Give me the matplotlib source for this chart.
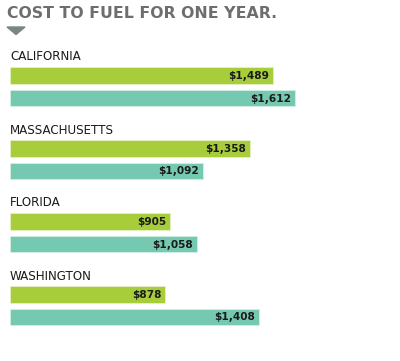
import matplotlib as mpl
mpl.use('Agg')
import matplotlib.pyplot as plt
from matplotlib.patches import Polygon

# data
states = ['CALIFORNIA', 'MASSACHUSETTS', 'FLORIDA', 'WASHINGTON']
cost_a = [1489, 1358, 905, 878]     # green bars
cost_b = [1612, 1092, 1058, 1408]   # teal bars

GREEN = '#a8cd3a'
TEAL = '#76c9b1'
TITLE_GRAY = '#6d6e70'

W, H = 400, 361
fig = plt.figure(figsize=(W / 100, H / 100), dpi=100)
fig.patch.set_facecolor('white')

# axes in pixel-ish units on y, value units on x
ax = fig.add_axes([10 / W, 0, (W - 10) / W, 1])
ax.set_xlim(0, (W - 10) / 0.1768)
ax.set_ylim(H, 0)
ax.axis('off')

pitch = 73
bar_h = 16.5
for i, st in enumerate(states):
    base = 57 + pitch * i
    ax.text(0, base, st, fontsize=8.6, family='DejaVu Sans', color='#1a1a1a',
            va='center', ha='left')
    for val, yc, col in ((cost_a[i], base + 18.5, GREEN), (cost_b[i], base + 41, TEAL)):
        ax.barh(yc, val, height=bar_h, color=col, edgecolor='#e6f2c8' if col == GREEN else '#d4efe6',
                linewidth=0.6)
        ax.text(val - 22, yc + 0.5, '${:,}'.format(val), fontsize=7.6, fontweight='bold',
                color='#1a1a1a', va='center', ha='right')

fig.text(7 / W, 1 - 13.5 / H, 'COST TO FUEL FOR ONE YEAR.', fontsize=11.3, fontweight='bold',
         family='DejaVu Sans', color=TITLE_GRAY, va='center', ha='left')
tri = Polygon([[7 / W, 1 - 27 / H], [25 / W, 1 - 27 / H], [16 / W, 1 - 34.5 / H]],
              closed=True, transform=fig.transFigure, color='#7a8780')
fig.patches.append(tri)

plt.savefig('out.png', dpi=100)
plt.close()
